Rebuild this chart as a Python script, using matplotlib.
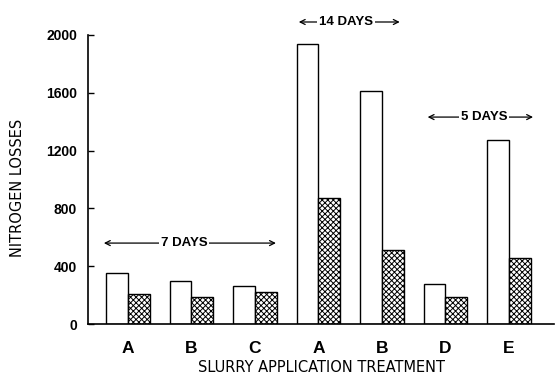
import matplotlib
matplotlib.use("Agg")
import matplotlib.pyplot as plt
import numpy as np

categories = ["A", "B", "C", "A", "B", "D", "E"]
open_values = [350, 300, 265, 1940, 1615, 275, 1270]
hatched_values = [210, 190, 220, 870, 510, 190, 455]
y_ticks = [0, 400, 800, 1200, 1600, 2000]

plt.rcParams['hatch.linewidth'] = 0.7
bold_font = "Liberation Sans"

fig = plt.figure(figsize=(5.55, 3.77), dpi=100)
ax = fig.add_axes([88/555, 53/377, 466/555, 289/377])

x = np.arange(len(categories))
w = 0.34
ax.bar(x - w/2, open_values, width=w, color="white", edgecolor="black", linewidth=1.0)
ax.bar(x + w/2, hatched_values, width=w, color="white", edgecolor="black", linewidth=1.0, hatch="xxxxxx")

ax.set_xlim(-0.63, 6.71)
ax.set_ylim(0, 2000)
ax.set_yticks(y_ticks)
ax.set_yticklabels([str(v) for v in y_ticks], fontfamily=bold_font, fontweight="bold", fontsize=10)
ax.set_xticks(x)
ax.set_xticklabels(categories, fontfamily=bold_font, fontweight="bold", fontsize=12.5)
ax.tick_params(axis="y", direction="in", length=4, width=1.0, pad=8)
ax.tick_params(axis="x", length=0, pad=12)

for s in ["top", "right"]:
    ax.spines[s].set_visible(False)
ax.spines["left"].set_linewidth(1.2)
ax.spines["bottom"].set_linewidth(1.2)

ax.set_xlabel("SLURRY APPLICATION TREATMENT", fontfamily="DejaVu Sans", fontsize=10.5, labelpad=3)
ax.set_ylabel("NITROGEN LOSSES", fontfamily="DejaVu Sans", fontsize=10.5)
ax.yaxis.set_label_coords(-0.135, 0.47)

def period(x0, x1, xt, y, label):
    ax.annotate("", xy=(x0, y), xytext=(x1, y),
                arrowprops=dict(arrowstyle="<->", lw=0.9, color="black", mutation_scale=9,
                                shrinkA=0, shrinkB=0),
                annotation_clip=False)
    ax.text(xt, y, label, ha="center", va="center", fontfamily=bold_font, fontweight="bold",
            fontsize=9.5, clip_on=False,
            bbox=dict(boxstyle="square,pad=0.15", fc="white", ec="none"))

period(-0.38, 2.33, 0.88, 560, "7 DAYS")
period(2.69, 4.28, 3.43, 2090, "14 DAYS")
period(4.72, 6.38, 5.61, 1432, "5 DAYS")

fig.savefig("out.png", dpi=100)
